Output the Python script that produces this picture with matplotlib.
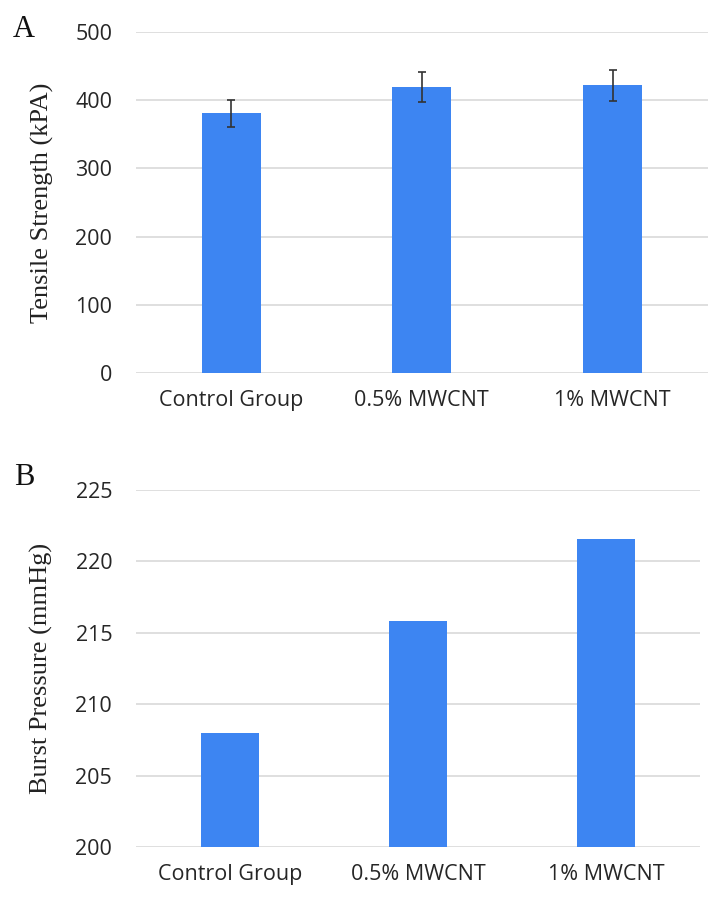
import matplotlib
matplotlib.use("Agg")
import matplotlib.pyplot as plt
import numpy as np

groups = ["Control Group", "0.5% MWCNT", "1% MWCNT"]
tensile = [381, 420, 422]
tensile_err = [20, 22, 23]
burst = [208.0, 215.8, 221.6]

bar_color = "#3d85f2"
tick_color = "#262626"
grid_color = "#d9d9d9"

fig = plt.figure(figsize=(7.15, 9.0), dpi=100)
ax1 = fig.add_axes([0.190, 0.5856, 0.800, 0.3788])
ax2 = fig.add_axes([0.190, 0.0589, 0.789, 0.3967])

x = np.arange(len(groups))


def style(ax, ylim, yticks, ylabel, lx):
    ax.set_ylim(*ylim)
    ax.set_yticks(yticks)
    ax.set_xlim(-0.5, len(groups) - 0.5)
    ax.set_xticks(x)
    ax.set_xticklabels(groups)
    for s in ax.spines.values():
        s.set_visible(False)
    ax.grid(axis="y", color=grid_color, linewidth=1.2)
    ax.set_axisbelow(True)
    ax.tick_params(axis="both", length=0, labelsize=15.5, colors=tick_color)
    ax.tick_params(axis="x", pad=12)
    ax.tick_params(axis="y", pad=17)
    for lab in ax.get_xticklabels() + ax.get_yticklabels():
        lab.set_family("Open Sans")
    ax.set_ylabel(ylabel, family="Liberation Serif", fontsize=19, color="#222222", va="center")
    ax.yaxis.set_label_coords(lx, 0.5)


ax1.bar(x, tensile, width=0.31, color=bar_color, yerr=tensile_err,
        error_kw=dict(ecolor="#333333", elinewidth=1.2, capsize=3, capthick=1.2))
style(ax1, (0, 500), [0, 100, 200, 300, 400, 500], "Tensile Strength (kPA)", -0.164)

ax2.bar(x, burst, width=0.31, color=bar_color, bottom=0)
style(ax2, (200, 225), [200, 205, 210, 215, 220, 225], "Burst Pressure (mmHg)", -0.167)

fig.text(0.018, 0.959, "A", family="Liberation Serif", fontsize=22, color="#111111", va="baseline")
fig.text(0.020, 0.461, "B", family="Liberation Serif", fontsize=22, color="#111111", va="baseline")

fig.savefig("out.png", dpi=100)
